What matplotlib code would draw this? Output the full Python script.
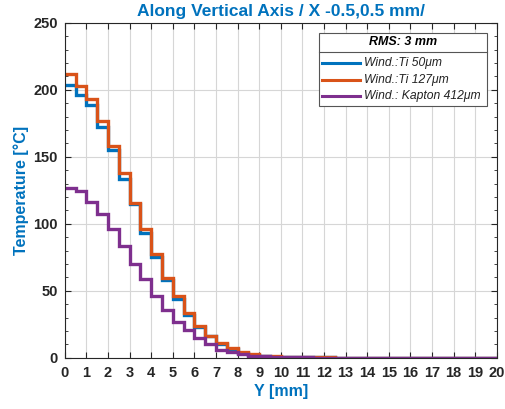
import numpy as np
import matplotlib
matplotlib.use('Agg')
import matplotlib.pyplot as plt
from matplotlib.patches import Rectangle
from matplotlib.lines import Line2D
from matplotlib.ticker import MultipleLocator

plt.rcParams['font.family'] = ['Liberation Sans', 'DejaVu Sans']

# step edges along Y (mm), 0.5 mm bins
edges = np.arange(0, 20.5, 0.5)

ti50 = [203.5, 196, 189, 172, 155.5, 133.5, 114.5, 93, 75, 58,
        44, 32, 23, 16, 10.5, 6.5, 4, 2.5, 1.6, 1.0,
        0.7, 0.5, 0.4, 0.3, 0.3, 0.2, 0.2, 0.2, 0.1, 0.1,
        0.1, 0.1, 0.1, 0.1, 0.1, 0.1, 0.1, 0.1, 0.1, 0.1]
ti127 = [211.5, 203, 193, 177, 158.5, 138, 115.5, 96, 77.5, 59.5,
         46, 33.5, 23.5, 16.5, 11, 7, 4.2, 2.7, 1.7, 1.1,
         0.8, 0.6, 0.4, 0.3, 0.3, 0.2, 0.2, 0.2, 0.1, 0.1,
         0.1, 0.1, 0.1, 0.1, 0.1, 0.1, 0.1, 0.1, 0.1, 0.1]
kapton412 = [127, 124.5, 116.5, 107.5, 96.5, 83.5, 70, 59, 46.5, 35.5,
             27, 20.5, 15, 10, 6.2, 4.2, 2.7, 1.7, 1.1, 0.7,
             0.5, 0.4, 0.3, 0.2, 0.2, 0.2, 0.1, 0.1, 0.1, 0.1,
             0.1, 0.1, 0.1, 0.1, 0.1, 0.1, 0.1, 0.1, 0.1, 0.1]

labels = ['Wind.:Ti 50μm', 'Wind.:Ti 127μm', 'Wind.: Kapton 412μm']
colors = ['#0072BD', '#D95319', '#7E2F8E']
txt_blue = '#0072BD'
dark = '#262626'

fig = plt.figure(figsize=(5.06, 4.09), dpi=100)
ax = fig.add_axes([0.128, 0.125, 0.854, 0.819])

for vals, c in zip([ti50, ti127, kapton412], colors):
    ax.stairs(vals, edges, color=c, linewidth=2.4, baseline=None)

ax.set_xlim(0, 20)
ax.set_ylim(0, 250)
ax.set_xticks(range(0, 21))
ax.set_yticks(range(0, 251, 50))
ax.yaxis.set_minor_locator(MultipleLocator(10))
ax.grid(True, which='major', color='#d6d6d6', linewidth=0.8)
ax.set_axisbelow(True)
ax.tick_params(which='both', direction='in', top=True, right=True,
               colors=dark, labelsize=10.5)
ax.tick_params(which='major', length=4)
ax.tick_params(which='minor', length=2.5)
ax.tick_params(axis='x', pad=6)
ax.tick_params(axis='y', pad=5)
for lab in ax.get_xticklabels() + ax.get_yticklabels():
    lab.set_fontweight('bold')
for s in ax.spines.values():
    s.set_color(dark)
    s.set_linewidth(0.8)

ax.set_title('Along Vertical Axis / X -0.5,0.5 mm/', color=txt_blue,
             fontsize=12.5, fontweight='bold', pad=5)
ax.set_xlabel('Y [mm]', color=txt_blue, fontsize=11.5, fontweight='bold', labelpad=3)
ax.set_ylabel('Temperature [°C]', color=txt_blue, fontsize=11.5, fontweight='bold', labelpad=3)

# legend box with header, drawn in axes fraction coords
x0, x1, y0, y1 = 0.588, 0.977, 0.752, 0.970
ax.add_patch(Rectangle((x0, y0), x1 - x0, y1 - y0, transform=ax.transAxes,
                       facecolor='white', edgecolor='#555555', linewidth=0.8, zorder=5))
ax.add_line(Line2D([x0, x1], [0.913, 0.913], transform=ax.transAxes,
                   color='#555555', linewidth=0.8, zorder=6))
ax.text((x0 + x1) / 2, 0.942, 'RMS: 3 mm', transform=ax.transAxes, ha='center', va='center',
        fontsize=9, fontweight='bold', style='italic', color='black', zorder=6)
for i, (lab, c) in enumerate(zip(labels, colors)):
    yy = 0.879 - i * 0.048
    ax.add_line(Line2D([0.595, 0.683], [yy, yy], transform=ax.transAxes,
                       color=c, linewidth=2.2, zorder=6))
    ax.text(0.693, yy, lab, transform=ax.transAxes, va='center', fontsize=8.7,
            style='italic', color='#222222', zorder=6)

fig.savefig('out.png', dpi=100)
